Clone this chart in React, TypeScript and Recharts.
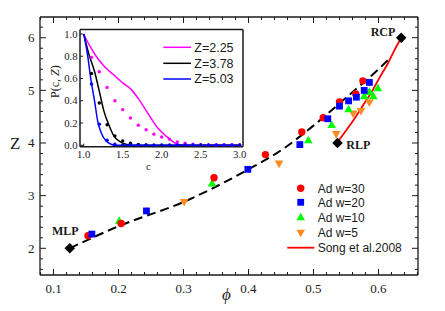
import React from "react";
import { ComposedChart, Line, Scatter, XAxis, YAxis, Legend, Label, ReferenceLine } from "recharts";

// main panel: coordination number Z against packing fraction phi
const adW30 = [
  { phi: 0.153, z: 2.24 }, { phi: 0.204, z: 2.47 }, { phi: 0.347, z: 3.34 },
  { phi: 0.426, z: 3.78 }, { phi: 0.482, z: 4.21 }, { phi: 0.515, z: 4.48 },
  { phi: 0.54, z: 4.78 }, { phi: 0.565, z: 4.93 }, { phi: 0.576, z: 5.18 },
];
const adW20 = [
  { phi: 0.159, z: 2.27 }, { phi: 0.243, z: 2.71 }, { phi: 0.399, z: 3.5 },
  { phi: 0.479, z: 3.97 }, { phi: 0.522, z: 4.46 }, { phi: 0.54, z: 4.7 },
  { phi: 0.554, z: 4.8 }, { phi: 0.566, z: 4.87 }, { phi: 0.578, z: 5.0 },
  { phi: 0.586, z: 5.15 },
];
const adW10 = [
  { phi: 0.201, z: 2.52 }, { phi: 0.344, z: 3.23 }, { phi: 0.492, z: 4.05 },
  { phi: 0.528, z: 4.34 }, { phi: 0.554, z: 4.64 }, { phi: 0.578, z: 4.89 },
  { phi: 0.586, z: 4.97 }, { phi: 0.592, z: 4.89 }, { phi: 0.599, z: 5.04 },
];
const adW5 = [
  { phi: 0.301, z: 2.88 }, { phi: 0.447, z: 3.61 }, { phi: 0.535, z: 4.17 },
  { phi: 0.561, z: 4.56 }, { phi: 0.573, z: 4.61 }, { phi: 0.586, z: 4.77 },
];
const fitCurve = [
  { phi: 0.125, z: 2.0 }, { phi: 0.2, z: 2.42 }, { phi: 0.3, z: 2.88 },
  { phi: 0.4, z: 3.5 }, { phi: 0.45, z: 3.86 }, { phi: 0.5, z: 4.33 },
  { phi: 0.55, z: 4.86 }, { phi: 0.6, z: 5.4 }, { phi: 0.615, z: 5.58 },
];
const song2008 = [
  { phi: 0.536, z: 4.0 }, { phi: 0.551, z: 4.25 }, { phi: 0.565, z: 4.5 },
  { phi: 0.578, z: 4.75 }, { phi: 0.591, z: 5.0 }, { phi: 0.602, z: 5.25 },
  { phi: 0.614, z: 5.5 }, { phi: 0.624, z: 5.75 }, { phi: 0.635, z: 6.0 },
];
const packings = [
  { phi: 0.125, z: 2.0, name: "MLP" },
  { phi: 0.537, z: 4.0, name: "RLP" },
  { phi: 0.635, z: 6.0, name: "RCP" },
];

// inset: P(c, Z)
const curveZ225 = [
  { c: 1.0, p: 1.0 }, { c: 1.08, p: 0.89 }, { c: 1.16, p: 0.8 }, { c: 1.25, p: 0.72 },
  { c: 1.33, p: 0.665 }, { c: 1.42, p: 0.61 }, { c: 1.5, p: 0.56 }, { c: 1.61, p: 0.5 },
  { c: 1.71, p: 0.41 }, { c: 1.82, p: 0.29 }, { c: 1.95, p: 0.155 }, { c: 2.06, p: 0.08 },
  { c: 2.14, p: 0.035 }, { c: 2.2, p: 0.01 }, { c: 2.3, p: 0 }, { c: 3.0, p: 0 },
];
const curveZ378 = [
  { c: 1.0, p: 1.0 }, { c: 1.07, p: 0.81 }, { c: 1.14, p: 0.66 }, { c: 1.2, p: 0.485 },
  { c: 1.26, p: 0.305 }, { c: 1.33, p: 0.17 }, { c: 1.39, p: 0.08 }, { c: 1.46, p: 0.036 },
  { c: 1.54, p: 0.01 }, { c: 1.62, p: 0 }, { c: 3.0, p: 0 },
];
const curveZ503 = [
  { c: 1.0, p: 1.0 }, { c: 1.05, p: 0.81 }, { c: 1.09, p: 0.6 }, { c: 1.14, p: 0.395 },
  { c: 1.18, p: 0.215 }, { c: 1.22, p: 0.12 }, { c: 1.29, p: 0.036 }, { c: 1.35, p: 0.01 },
  { c: 1.42, p: 0 }, { c: 3.0, p: 0 },
];
const dotsZ225 = [
  { c: 1.1, p: 0.79 }, { c: 1.2, p: 0.66 }, { c: 1.3, p: 0.52 }, { c: 1.4, p: 0.4 },
  { c: 1.5, p: 0.32 }, { c: 1.6, p: 0.245 }, { c: 1.7, p: 0.18 }, { c: 1.8, p: 0.14 },
  { c: 1.9, p: 0.1 }, { c: 2.0, p: 0.075 }, { c: 2.1, p: 0.055 }, { c: 2.2, p: 0.03 },
  { c: 2.3, p: 0.018 }, { c: 2.4, p: 0.01 }, { c: 2.5, p: 0.006 }, { c: 2.6, p: 0.004 },
  { c: 2.7, p: 0.003 }, { c: 2.8, p: 0.002 }, { c: 2.9, p: 0.002 }, { c: 3.0, p: 0.002 },
];
const dotsZ378 = [
  { c: 1.1, p: 0.645 }, { c: 1.2, p: 0.38 }, { c: 1.3, p: 0.185 }, { c: 1.4, p: 0.085 },
  { c: 1.5, p: 0.04 }, { c: 1.6, p: 0.018 }, { c: 1.7, p: 0.008 }, { c: 1.8, p: 0.004 },
];
const dotsZ503 = [
  { c: 1.1, p: 0.55 }, { c: 1.2, p: 0.19 }, { c: 1.3, p: 0.045 }, { c: 1.4, p: 0.01 },
  { c: 1.5, p: 0.002 }, { c: 1.6, p: 0.002 }, { c: 1.7, p: 0.002 }, { c: 1.8, p: 0.002 },
  { c: 1.9, p: 0.002 }, { c: 2.0, p: 0.002 }, { c: 2.1, p: 0.002 }, { c: 2.2, p: 0.002 },
  { c: 2.3, p: 0.002 }, { c: 2.4, p: 0.002 }, { c: 2.5, p: 0.002 }, { c: 2.6, p: 0.002 },
  { c: 2.7, p: 0.002 }, { c: 2.8, p: 0.002 }, { c: 2.9, p: 0.002 }, { c: 3.0, p: 0.002 },
];

const phiTicks = Array.from({ length: 30 }, (_, i) => +((i + 4) * 0.02).toFixed(2));
const zTicks = Array.from({ length: 24 }, (_, i) => +((i + 8) * 0.2).toFixed(1));
const cTicks = [1.0, 1.5, 2.0, 2.5, 3.0];
const pTicks = [0, 0.2, 0.4, 0.6, 0.8, 1.0];

const PHI_DOMAIN: [number, number] = [0.0792, 0.6608];
const Z_DOMAIN: [number, number] = [1.493, 6.393];
const C_DOMAIN: [number, number] = [0.9526, 3.042];
const P_DOMAIN: [number, number] = [-0.0126, 1.04];

const RED = "#ff0000";
const BLUE = "#0000ff";
const GREEN = "#00ff00";
const ORANGE = "#ff8a20";
const MAGENTA = "#ff00ff";
const ink = "#1a1a1a";
const serif = "'Liberation Serif', 'Times New Roman', serif";
const sans = "'Liberation Sans', Arial, sans-serif";
const frame = { stroke: ink, strokeWidth: 1.3 };

// plot box size, used to mirror the inward ticks onto the top and right edges
const PLOT_W = 378;
const PLOT_H = 258;

const onStep = (v: number, step: number) => Math.abs(v / step - Math.round(v / step)) < 1e-6;

const PhiTick = ({ x, y, payload }: any) => {
  const major = onStep(payload.value, 0.1);
  const len = major ? 6 : 3;
  return (
    <g>
      <line x1={x} x2={x} y1={y} y2={y - len} stroke={ink} />
      <line x1={x} x2={x} y1={y - PLOT_H} y2={y - PLOT_H + len} stroke={ink} />
      {major && (
        <text x={x} y={y + 18} textAnchor="middle" fontFamily={serif} fontSize={13} fill={ink}>
          {payload.value.toFixed(1)}
        </text>
      )}
    </g>
  );
};
const ZTick = ({ x, y, payload }: any) => {
  const major = onStep(payload.value, 1);
  const len = major ? 6 : 3;
  return (
    <g>
      <line x1={x} x2={x + len} y1={y} y2={y} stroke={ink} />
      <line x1={x + PLOT_W} x2={x + PLOT_W - len} y1={y} y2={y} stroke={ink} />
      {major && (
        <text x={x - 5.5} y={y + 4.5} textAnchor="end" fontFamily={serif} fontSize={13} fill={ink}>
          {payload.value.toFixed(0)}
        </text>
      )}
    </g>
  );
};
const CTick = ({ x, y, payload }: any) => (
  <g>
    <line x1={x} x2={x} y1={y} y2={y - 3} stroke={ink} />
    <text x={x} y={y + 10.8} textAnchor="middle" fontFamily={serif} fontSize={10.7} fill={ink}>
      {payload.value.toFixed(1)}
    </text>
  </g>
);
const PTick = ({ x, y, payload }: any) => (
  <g>
    <line x1={x} x2={x + 3} y1={y} y2={y} stroke={ink} />
    <text x={x - 2.5} y={y + 3.6} textAnchor="end" fontFamily={serif} fontSize={10.7} fill={ink}>
      {payload.value.toFixed(1)}
    </text>
  </g>
);

const circle = (color: string) => (p: any) => <circle cx={p.cx} cy={p.cy} r={3.7} fill={color} />;
const square = (color: string) => (p: any) => (
  <rect x={p.cx - 3.4} y={p.cy - 3.4} width={6.8} height={6.8} fill={color} />
);
const triUp = (color: string) => (p: any) => (
  <path d={`M${p.cx},${p.cy - 4.6}L${p.cx + 4.3},${p.cy + 3}L${p.cx - 4.3},${p.cy + 3}Z`} fill={color} />
);
const triDown = (color: string) => (p: any) => (
  <path d={`M${p.cx - 4.3},${p.cy - 3}L${p.cx + 4.3},${p.cy - 3}L${p.cx},${p.cy + 4.6}Z`} fill={color} />
);
const smallDot = (color: string) => (p: any) => <circle cx={p.cx} cy={p.cy} r={1.7} fill={color} />;

const tagOffset: Record<string, [number, number]> = {
  MLP: [-4.5, -13.3],
  RLP: [20.7, 6.3],
  RCP: [-18.2, -2],
};
const PackingMark = (p: any) => {
  const [dx, dy] = tagOffset[p.payload.name];
  return (
    <g>
      <path d={`M${p.cx},${p.cy - 5.3}L${p.cx + 5.3},${p.cy}L${p.cx},${p.cy + 5.3}L${p.cx - 5.3},${p.cy}Z`} fill="#000" />
      <text x={p.cx + dx} y={p.cy + dy} textAnchor="middle" fontFamily={serif} fontWeight="bold" fontSize={12} fill={ink}>
        {p.payload.name}
      </text>
    </g>
  );
};

const legendRows = [
  { label: "Ad w=30", color: RED, kind: "circle", y: 8.3 },
  { label: "Ad w=20", color: BLUE, kind: "square", y: 22.3 },
  { label: "Ad w=10", color: GREEN, kind: "up", y: 37.3 },
  { label: "Ad w=5", color: ORANGE, kind: "down", y: 52.7 },
  { label: "Song et al.2008", color: RED, kind: "line", y: 67.7 },
];
const MainLegend = () => (
  <svg width={140} height={76} style={{ display: "block" }}>
    {legendRows.map((r) => {
      const pt = { cx: 15.7, cy: r.y };
      let icon;
      if (r.kind === "circle") icon = circle(r.color)(pt);
      else if (r.kind === "square") icon = square(r.color)(pt);
      else if (r.kind === "up") icon = triUp(r.color)(pt);
      else if (r.kind === "down") icon = triDown(r.color)(pt);
      else icon = <line x1={2.3} x2={29.3} y1={r.y} y2={r.y} stroke={r.color} strokeWidth={1.8} />;
      return (
        <g key={r.label}>
          {icon}
          <text x={32.7} y={r.y + 4.3} fontFamily={sans} fontSize={12} fill={ink}>
            {r.label}
          </text>
        </g>
      );
    })}
  </svg>
);

const insetRows = [
  { label: "Z=2.25", color: MAGENTA, y: 9.3 },
  { label: "Z=3.78", color: "#000", y: 25.3 },
  { label: "Z=5.03", color: BLUE, y: 41 },
];
const InsetLegend = () => (
  <svg width={85} height={50} style={{ display: "block" }}>
    {insetRows.map((r) => (
      <g key={r.label}>
        <line x1={3.3} x2={31} y1={r.y} y2={r.y} stroke={r.color} strokeWidth={1.5} />
        <text x={34.3} y={r.y + 4.4} fontFamily={sans} fontSize={12.5} fill={ink}>
          {r.label}
        </text>
      </g>
    ))}
  </svg>
);

export default function App() {
  return (
    <div style={{ position: "absolute", left: 0, top: 0, width: 445, height: 311, background: "#fff" }}>
      <ComposedChart width={445} height={311} margin={{ top: 17, right: 27, bottom: 0, left: 0 }}>
        <XAxis
          type="number"
          dataKey="phi"
          domain={PHI_DOMAIN}
          allowDataOverflow
          ticks={phiTicks}
          interval={0}
          tick={PhiTick}
          tickLine={false}
          tickSize={0}
          tickMargin={0}
          height={36}
          axisLine={frame}
        >
          <Label
            content={() => (
              <text x={226.5} y={300} textAnchor="middle" fontFamily={serif} fontStyle="italic" fontSize={17} fill={ink}>
                ϕ
              </text>
            )}
          />
        </XAxis>
        <YAxis
          type="number"
          dataKey="z"
          domain={Z_DOMAIN}
          allowDataOverflow
          ticks={zTicks}
          interval={0}
          tick={ZTick}
          tickLine={false}
          tickSize={0}
          tickMargin={0}
          width={40}
          axisLine={frame}
        >
          <Label
            content={() => (
              <text x={15.3} y={149} textAnchor="middle" fontFamily={serif} fontSize={17} fill={ink}>
                Z
              </text>
            )}
          />
        </YAxis>
        <ReferenceLine y={Z_DOMAIN[1]} ifOverflow="visible" stroke={ink} strokeWidth={1.3} />
        <ReferenceLine x={PHI_DOMAIN[1]} ifOverflow="visible" stroke={ink} strokeWidth={1.3} />
        <Scatter data={adW5} shape={triDown(ORANGE)} isAnimationActive={false} />
        <Scatter data={adW10} shape={triUp(GREEN)} isAnimationActive={false} />
        <Scatter data={adW30} shape={circle(RED)} isAnimationActive={false} />
        <Scatter data={adW20} shape={square(BLUE)} isAnimationActive={false} />
        <Line
          data={fitCurve}
          dataKey="z"
          type="monotone"
          stroke="#000"
          strokeWidth={2}
          strokeDasharray="9 5"
          dot={false}
          isAnimationActive={false}
        />
        <Line
          data={song2008}
          dataKey="z"
          type="monotone"
          stroke={RED}
          strokeWidth={1.8}
          dot={false}
          isAnimationActive={false}
        />
        <Scatter data={packings} shape={PackingMark} isAnimationActive={false} />
        <Legend
          layout="vertical"
          align="center"
          verticalAlign="middle"
          wrapperStyle={{ left: 285, top: 180, width: 140, height: 76 }}
          content={MainLegend}
        />
      </ComposedChart>

      <div style={{ position: "absolute", left: 40, top: 20 }}>
        <ComposedChart width={210} height={160} margin={{ top: 9.5, right: 7, bottom: 0, left: 0 }}>
          <XAxis
            type="number"
            dataKey="c"
            domain={C_DOMAIN}
            allowDataOverflow
            ticks={cTicks}
            interval={0}
            tick={CTick}
            tickLine={false}
            tickSize={0}
            tickMargin={0}
            height={33.3}
            axisLine={{ stroke: ink, strokeWidth: 1.5 }}
          >
            <Label
              content={() => (
                <text x={108.3} y={149.5} textAnchor="middle" fontFamily={serif} fontSize={10.5} fill={ink}>
                  c
                </text>
              )}
            />
          </XAxis>
          <YAxis
            type="number"
            dataKey="p"
            domain={P_DOMAIN}
            allowDataOverflow
            ticks={pTicks}
            interval={0}
            tick={PTick}
            tickLine={false}
            tickSize={0}
            tickMargin={0}
            width={40}
            axisLine={{ stroke: ink, strokeWidth: 1.5 }}
          >
            <Label
              content={() => (
                <text
                  x={15}
                  y={61.7}
                  transform="rotate(-90 15 61.7)"
                  textAnchor="middle"
                  dominantBaseline="central"
                  fontFamily={serif}
                  fontSize={12}
                  fill={ink}
                >
                  P(c, <tspan fontStyle="italic">Z</tspan>)
                </text>
              )}
            />
          </YAxis>
          <ReferenceLine y={P_DOMAIN[1]} ifOverflow="visible" stroke={ink} strokeWidth={1.5} />
          <ReferenceLine x={C_DOMAIN[1]} ifOverflow="visible" stroke={ink} strokeWidth={1.5} />
          <Line data={curveZ225} dataKey="p" type="monotone" stroke={MAGENTA} strokeWidth={1.5} dot={false} isAnimationActive={false} />
          <Line data={curveZ378} dataKey="p" type="monotone" stroke="#000" strokeWidth={1.5} dot={false} isAnimationActive={false} />
          <Line data={curveZ503} dataKey="p" type="monotone" stroke={BLUE} strokeWidth={1.5} dot={false} isAnimationActive={false} />
          <Scatter data={dotsZ225} shape={smallDot(MAGENTA)} isAnimationActive={false} />
          <Scatter data={dotsZ378} shape={smallDot("#000")} isAnimationActive={false} />
          <Scatter data={dotsZ503} shape={smallDot(BLUE)} isAnimationActive={false} />
          <Legend
            layout="vertical"
            align="center"
            verticalAlign="middle"
            wrapperStyle={{ left: 120, top: 18, width: 85, height: 50 }}
            content={InsetLegend}
          />
        </ComposedChart>
      </div>
    </div>
  );
}
